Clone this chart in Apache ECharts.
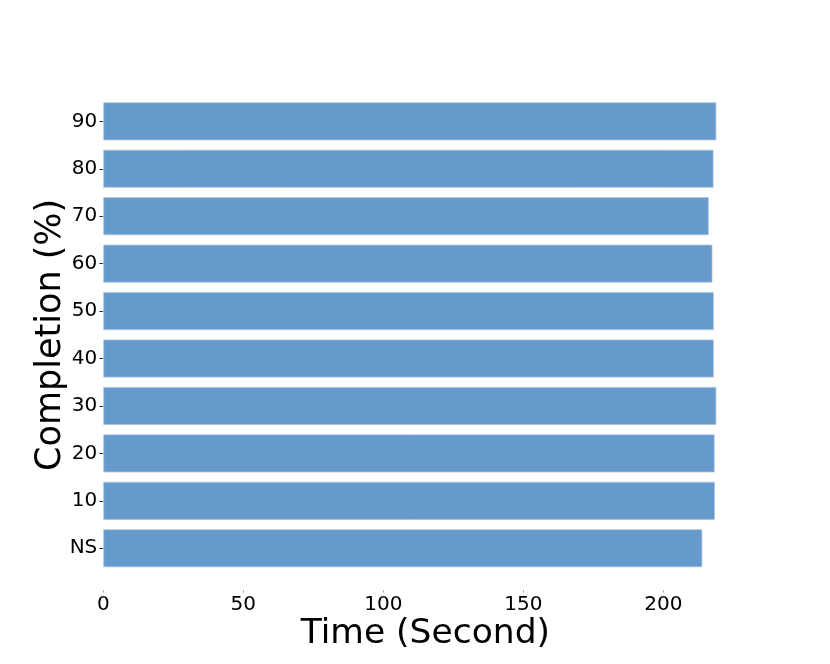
<!DOCTYPE html>
<html>
<head>
<meta charset="utf-8">
<script src="https://cdn.jsdelivr.net/npm/echarts@6/dist/echarts.min.js"></script>
<style>
  html, body { margin: 0; padding: 0; background: #fff; }
  #chart { width: 830px; height: 664px; }
</style>
</head>
<body>
<div id="chart"></div>
<script>
// --- Data ---
const categories = ["NS", "10", "20", "30", "40", "50", "60", "70", "80", "90"];
const timeSeconds = [213.9, 218.4, 218.3, 218.9, 218.0, 218.0, 217.5, 216.2, 217.9, 218.9];
const xTicks = [0, 50, 100, 150, 200];

const chart = echarts.init(document.getElementById("chart"), null, { renderer: "canvas" });

const font = "'DejaVu Sans', sans-serif";

chart.setOption({
  animation: false,
  grid: { left: 103.3, width: 644.1, top: 97.6, height: 474.4, outerBoundsMode: "none", containLabel: false },
  xAxis: {
    type: "value",
    min: 0,
    max: 230,
    interval: 50,
    offset: 18.5,
    name: "Time (Second)",
    nameLocation: "middle",
    nameGap: 26,
    nameMoveOverlap: false,
    nameTextStyle: { fontFamily: font, fontSize: 34.5, color: "#000", verticalAlign: "top" },
    axisLine: { show: false },
    axisTick: { show: true, length: 2, lineStyle: { color: "#999" } },
    axisLabel: {
      fontFamily: font, fontSize: 20, color: "#000", margin: 4,
      showMaxLabel: false,
      formatter: (v) => (xTicks.includes(v) ? String(v) : "")
    },
    splitLine: { show: false }
  },
  yAxis: {
    type: "category",
    data: categories,
    name: "Completion (%)",
    nameLocation: "middle",
    nameGap: 35,
    nameMoveOverlap: false,
    nameTextStyle: { fontFamily: font, fontSize: 35, color: "#000" },
    axisLine: { show: false },
    axisTick: { show: true, alignWithLabel: true, length: 4, lineStyle: { color: "#333" } },
    axisLabel: { fontFamily: font, fontSize: 20, color: "#000", margin: 6 }
  },
  series: [{
    type: "bar",
    data: timeSeconds,
    barWidth: "80%",
    itemStyle: { color: "#6699cc", borderColor: "#a9c3e0", borderWidth: 0.8 }
  }]
});
</script>
</body>
</html>
